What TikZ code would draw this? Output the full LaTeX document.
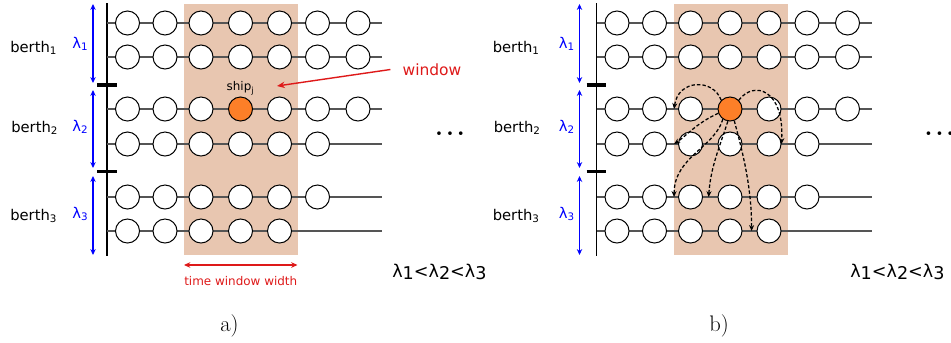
\documentclass[tikz,border=0pt]{standalone}
\usepackage{fontspec}
\usepackage{tikz}
\usetikzlibrary{arrows.meta,positioning}
\newfontfamily\labelsf{DejaVu Sans}
\definecolor{winshade}{RGB}{232,198,176}
\definecolor{shiporange}{RGB}{253,127,40}
\definecolor{rowgray}{RGB}{85,85,85}
\definecolor{lamblue}{RGB}{0,0,255}
\definecolor{winred}{RGB}{222,25,25}

\begin{document}
\begin{tikzpicture}[
  x=0.025cm, y=0.025cm,
  font=\labelsf\fontsize{10.5}{12.5}\selectfont,
  slot/.style={circle,draw=black,line width=0.7pt,fill=white,
               minimum size=0.6cm,inner sep=0pt},
  rowline/.style={draw=rowgray,line width=0.9pt},
  quay/.style={draw=black,line width=1.4pt},
  quaytick/.style={draw=black,line width=2.2pt},
  berthspan/.style={{Stealth[length=4.2pt,width=3.8pt]}-{Stealth[length=4.2pt,width=3.8pt]},
                    draw=lamblue,line width=1pt},
  shiphop/.style={-{Stealth[length=4.2pt,width=3.6pt]},draw=black,line width=0.9pt,
                  dash pattern=on 2.4pt off 1.5pt},
  redline/.style={draw=winred,line width=1pt},
  lbl/.style={anchor=base west,inner sep=0pt},
  smalltext/.style={font=\labelsf\fontsize{8.5}{10}\selectfont},
  bigserif/.style={font=\rmfamily\fontsize{16}{19}\selectfont,anchor=base}
]
\useasboundingbox (0,0) rectangle (951,-342);

\foreach \p/\dx/\bx/\lx in {a/0/0/0,b/489.5/-7/-3}{
\begin{scope}[shift={(\dx,0)}]
  \fill[winshade] (184,-4) rectangle (298,-255);
  % quay and berth limits
  \coordinate (\p-quaytop) at (107,-3);
  \coordinate (\p-quaybot) at (107,-256);
  \draw[quay] (\p-quaytop) -- (\p-quaybot);
  \draw[quaytick] (97,-85) -- (116.5,-85);
  \draw[quaytick] (97,-171.5) -- (116.5,-171.5);
  \draw[berthspan] (93+\lx,-4) -- (93+\lx,-83);
  \draw[berthspan] (93+\lx,-90) -- (93+\lx,-168);
  \draw[berthspan] (93+\lx,-176) -- (93+\lx,-255);
  \node[lbl] (\p-berth1) at (10+\bx,-52) {berth\textsubscript{1}};
  \node[lbl] (\p-berth2) at (11+\bx,-132.5) {berth\textsubscript{2}};
  \node[lbl] (\p-berth3) at (10+\bx,-220) {berth\textsubscript{3}};
  \node[lbl,text=lamblue] (\p-lam1) at (72+\lx,-48.5) {λ\textsubscript{1}};
  \node[lbl,text=lamblue] (\p-lam2) at (72+\lx,-131.5) {λ\textsubscript{2}};
  \node[lbl,text=lamblue] (\p-lam3) at (72+\lx,-218) {λ\textsubscript{3}};
  % ship rows
  \foreach \row/\y/\n in {1/23/7,2/57/7,3/109/7,4/144/6,5/197/6,6/231/5}{
    \coordinate (\p-r\row-s) at (107,-\y);
    \coordinate (\p-r\row-e) at (382,-\y);
    \draw[rowline] (\p-r\row-s) -- (\p-r\row-e);
    \foreach \col in {1,...,\n}{
      \pgfmathsetmacro\cx{{127.5,165,201,240.5,279.5,317.5,358}[\col-1]}
      \def\slotfill{white}
      \ifnum\row\col=34 \def\slotfill{shiporange}\fi
      \node[slot,fill=\slotfill] (\p-r\row-c\col) at (\cx,-\y) {};
    }
  }
  \node[bigserif,font=\rmfamily\bfseries\fontsize{18}{20}\selectfont] (\p-more) at (450,-135)
    {.\kern0.12em.\kern0.12em.};
  \node[bigserif] (\p-caption) at (229.5,-331) {\p)};
\end{scope}
}

% a) the time window
\node[smalltext,above=0pt of a-r3-c4,inner sep=1pt] (shipj) {ship\textsubscript{j}};
\node[text=winred,font=\labelsf\fontsize{11}{13}\selectfont,
      inner xsep=8.5pt,inner ysep=2pt] (window) at (432,-69.5) {window};
\coordinate (window-tip) at (277,-86);
\draw[redline,-{Stealth[length=5.5pt,width=4.5pt]}] (window.west) -- (window-tip);
\coordinate (tw-left) at (184,-265);
\coordinate (tw-right) at (297.5,-265);
\draw[redline,{Stealth[length=4.5pt,width=4pt]}-{Stealth[length=4.5pt,width=4pt]}]
  (tw-left) -- node[smalltext,text=winred,below=4pt] (twlabel) {time window width} (tw-right);
\node[lbl,font=\labelsf\fontsize{12.5}{15}\selectfont] (a-order) at (392,-277)
  {λ\raisebox{-2pt}{1}<λ\raisebox{-2pt}{2}<λ\raisebox{-2pt}{3}};

% b) moves of ship j
\draw[shiphop] (b-r3-c4.north west) .. controls +(-8,22) and +(4,30) .. ([xshift=-2.8pt]b-r3-c3.west);
\draw[shiphop] (b-r3-c4.north east) .. controls +(15,20) and +(3,55) .. (b-r4-c5.east);
\draw[shiphop] (b-r3-c4.200) .. controls +(-22,-10) and +(12,8) .. ([xshift=-2.8pt]b-r4-c3.west);
\draw[shiphop] (b-r3-c4.235) .. controls +(-8,-28) and +(0,40) .. ([xshift=-2.8pt]b-r5-c3.west);
\draw[shiphop] (b-r3-c4.260) .. controls +(-8,-25) and +(2,30) .. ([xshift=4pt]b-r5-c3.east);
\draw[shiphop] (b-r3-c4.290) .. controls +(8,-30) and +(0,45) .. ([xshift=-3.5pt]b-r6-c5.west);
\node[lbl,font=\labelsf\fontsize{12.5}{15}\selectfont] (b-order) at (850,-277)
  {λ\raisebox{-2pt}{1}<λ\raisebox{-2pt}{2}<λ\raisebox{-2pt}{3}};
\end{tikzpicture}
\end{document}
